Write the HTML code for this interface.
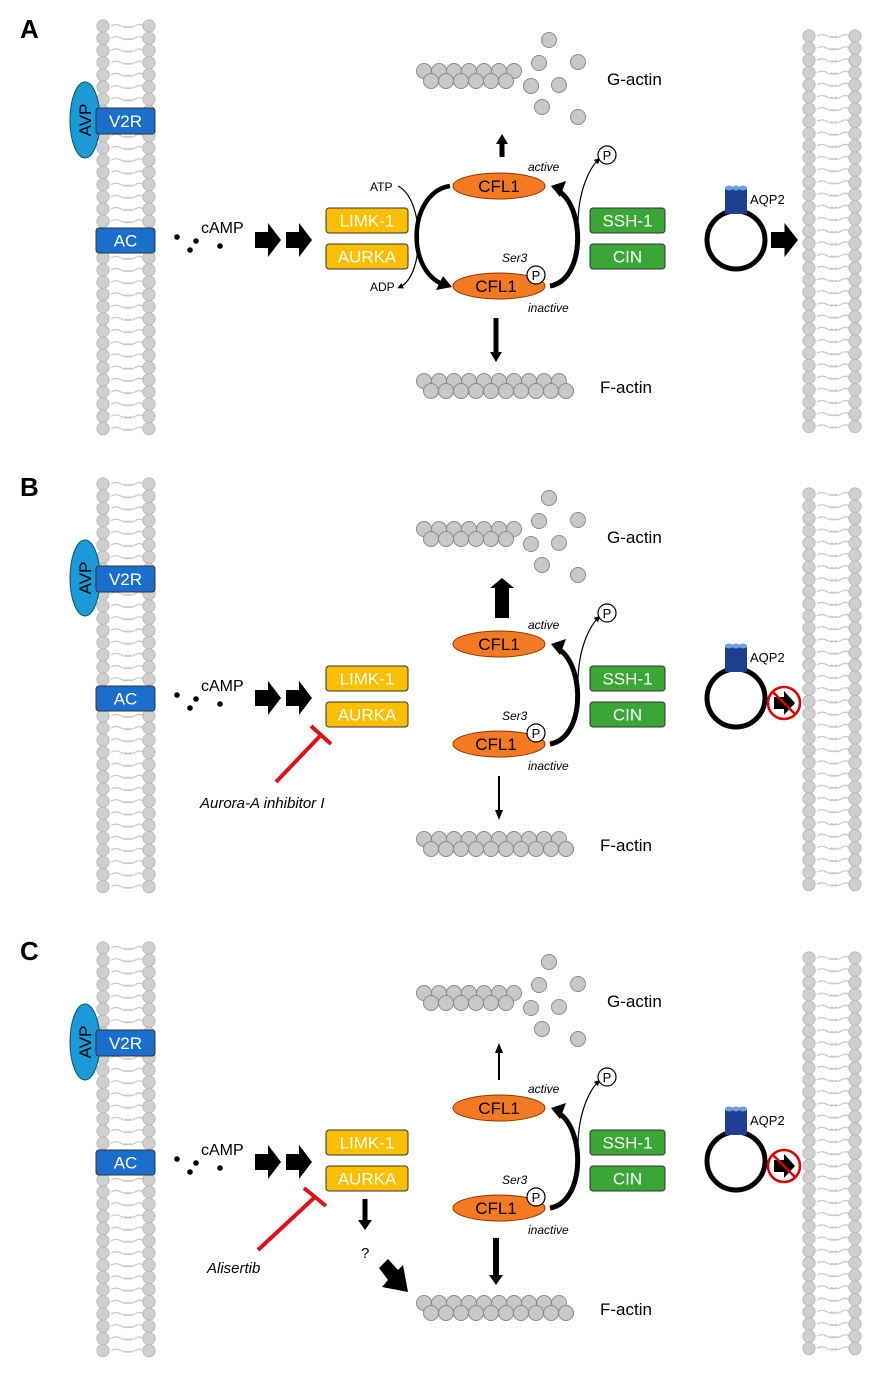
<!DOCTYPE html>
<html><head><meta charset="utf-8">
<style>
html,body{margin:0;padding:0;background:#fff;}
svg{display:block;font-family:"Liberation Sans",Arial,sans-serif;}
</style></head>
<body>
<svg id="s" width="876" height="1375" viewBox="0 0 876 1375" xmlns="http://www.w3.org/2000/svg">
<defs>
<marker id="ah" markerWidth="6" markerHeight="6" refX="3" refY="3" orient="auto" markerUnits="userSpaceOnUse"><path d="M0,0 L6,3 L0,6 z" fill="#000"/></marker>
</defs>
<g id="shapes"></g>
<g font-size="17" fill="#000">
<text x="20" y="38" font-size="26" font-weight="bold">A</text>
<text x="20" y="496" font-size="26" font-weight="bold">B</text>
<text x="20" y="960" font-size="26" font-weight="bold">C</text>
</g>
</svg>
<script>
const NS="http://www.w3.org/2000/svg";
const S=document.getElementById('shapes');
function el(t,a,parent,txt){const e=document.createElementNS(NS,t);for(const k in a)e.setAttribute(k,a[k]);if(txt!==undefined)e.textContent=txt;(parent||S).appendChild(e);return e;}
function membrane(x,y0,y1){
  el('rect',{x:x+6,y:y0,width:34,height:y1-y0,fill:'#fff'});
  for(let y=y0+6;y<=y1-4;y+=12.2){
    el('path',{d:`M${x+8},${y} q5,-3 10,0 t10,0 M${x+22},${y} q5,3 10,0 t8,0`,stroke:'#c9c9c9','stroke-width':1.2,fill:'none'});
  }
  for(let y=y0+6;y<=y1-4;y+=12.2){
    el('circle',{cx:x,cy:y,r:6.2,fill:'#cfcfcf',stroke:'#b5b5b5','stroke-width':0.8});
    el('circle',{cx:x+46,cy:y,r:6.2,fill:'#cfcfcf',stroke:'#b5b5b5','stroke-width':0.8});
  }
}
function ball(x,y){el('circle',{cx:x,cy:y,r:7.5,fill:'#c8c8c8',stroke:'#8a8a8a','stroke-width':1});}
function box(x,y,w,h,fill,txt,tc){el('rect',{x:x,y:y,width:w,height:h,rx:3,fill:fill,stroke:'#333','stroke-width':1});el('text',{x:x+w/2,y:y+h/2+6,'text-anchor':'middle','font-size':17,fill:tc||'#fff'},S,txt);}
function blockArrowR(x,y,w){
  el('path',{d:`M${x},${y-8} L${x+w*0.5},${y-8} L${x+w*0.5},${y-17} L${x+w},${y} L${x+w*0.5},${y+17} L${x+w*0.5},${y+8} L${x},${y+8} z`,fill:'#000'});
}
function vArrow(x,y1,y2,w,hw){
  const d=y2>y1?1:-1;const hl=10*d;
  el('path',{d:`M${x-w/2},${y1} L${x+w/2},${y1} L${x+w/2},${y2-hl} L${x+hw},${y2-hl} L${x},${y2} L${x-hw},${y2-hl} L${x-w/2},${y2-hl} z`,fill:'#000'});
}
function txt(x,y,t,o){const a=Object.assign({x:x,y:y,'font-size':16},o||{});el('text',a,S,t);}
function aqp(cx,cy,blocked){
  el('circle',{cx:cx,cy:cy,r:29,fill:'none',stroke:'#000','stroke-width':5});
  for(const dx of [-7,0,7]){el('rect',{x:cx+dx-4,y:cy-52,width:8,height:26,rx:2,fill:'#1e3f8f'});el('ellipse',{cx:cx+dx,cy:cy-52,rx:4,ry:2.5,fill:'#6aa0e0'});}
  txt(cx+14,cy-36,'AQP2',{'font-size':13});
  if(!blocked){blockArrowR(cx+35,cy,27);}
  else{
    const x=cx+48,y=cy+5;
    el('path',{d:`M${x-10},${y-6} L${x},${y-6} L${x},${y-12} L${x+11},${y} L${x},${y+12} L${x},${y+6} L${x-10},${y+6} z`,fill:'#000'});
    el('circle',{cx:x,cy:y,r:16,fill:'none',stroke:'#d00','stroke-width':2.5});
    el('line',{x1:x-11,y1:y-11,x2:x+11,y2:y+11,stroke:'#d00','stroke-width':2.5});
  }
}
function panel(o,mode){
  membrane(103,20+o,435+o); membrane(809,30+o,440+o);
  el('ellipse',{cx:85,cy:120+o,rx:15,ry:38,fill:'#1a9ad6',stroke:'#0b4f7a','stroke-width':1});
  el('text',{x:0,y:0,'font-size':17,fill:'#000','text-anchor':'middle',transform:`translate(91,${120+o}) rotate(-90)`},S,'AVP');
  box(96,108+o,59,26,'#1a6fcc','V2R');
  box(96,228+o,59,25,'#1a6fcc','AC');
  for(const [x,y] of [[177,237],[196,241],[190,250],[220,246]])el('circle',{cx:x,cy:y+o,r:2.8,fill:'#000'});
  txt(201,233+o,'cAMP',{'font-size':16});
  blockArrowR(255,240+o,26); blockArrowR(286,240+o,26);
  box(326,208+o,82,25,'#fbbf00','LIMK-1'); box(326,244+o,82,25,'#fbbf00','AURKA');
  box(590,208+o,75,25,'#3aa635','SSH-1'); box(590,244+o,75,25,'#3aa635','CIN');
  for(let i=0;i<7;i++)ball(424+i*15,71+o);
  for(let i=0;i<6;i++)ball(431+i*15,81+o);
  for(const [x,y] of [[549,40],[539,63],[578,62],[531,86],[559,85],[542,107],[578,117]])ball(x,y+o);
  txt(607,85+o,'G-actin',{'font-size':17});
  for(let i=0;i<10;i++)ball(424+i*15,381+o);
  for(let i=0;i<10;i++)ball(431+i*15,391+o);
  txt(600,393+o,'F-actin',{'font-size':17});
  el('ellipse',{cx:499,cy:186+o,rx:46,ry:13,fill:'#f37a21',stroke:'#8a3a00','stroke-width':1});
  txt(499,192+o,'CFL1',{'text-anchor':'middle','font-size':17});
  el('ellipse',{cx:499,cy:286+o,rx:46,ry:13,fill:'#f37a21',stroke:'#8a3a00','stroke-width':1});
  txt(496,292+o,'CFL1',{'text-anchor':'middle','font-size':17});
  el('circle',{cx:536,cy:275+o,r:9,fill:'#fff',stroke:'#000','stroke-width':1.2});
  txt(536,280+o,'P',{'text-anchor':'middle','font-size':13});
  txt(528,171+o,'active',{'font-size':12,'font-style':'italic'});
  txt(502,262+o,'Ser3',{'font-size':12,'font-style':'italic'});
  txt(528,312+o,'inactive',{'font-size':12,'font-style':'italic'});
  el('path',{d:`M550,${286+o} C585,${280+o} 585,${210+o} 560,${192+o}`,fill:'none',stroke:'#000','stroke-width':5});
  el('path',{d:`M551,${186+o} L566,${181+o} L560,${197+o} z`,fill:'#000'});
  el('path',{d:`M578,${225+o} C578,${190+o} 590,${168+o} 598,${160+o}`,fill:'none',stroke:'#000','stroke-width':1.2,'marker-end':'url(#ah)'});
  el('circle',{cx:607,cy:155+o,r:9,fill:'#fff',stroke:'#000','stroke-width':1.2});
  txt(607,160+o,'P',{'text-anchor':'middle','font-size':13});
  if(mode==='A'){
    el('path',{d:`M450,${186+o} C410,${192+o} 405,${265+o} 440,${283+o}`,fill:'none',stroke:'#000','stroke-width':4.5});
    el('path',{d:`M452,${287+o} L436,${290+o} L443,${276+o} z`,fill:'#000'});
    el('path',{d:`M398,${186+o} C425,${200+o} 425,${275+o} 400,${287+o}`,fill:'none',stroke:'#000','stroke-width':1.2,'marker-end':'url(#ah)'});
    txt(370,191+o,'ATP',{'font-size':12}); txt(370,291+o,'ADP',{'font-size':12});
    vArrow(502,157+o,134+o,5,6);
    vArrow(496,318+o,362+o,5,6);
    aqp(736,240+o,false);
  } else if(mode==='B'){
    vArrow(502,618,578,14,12);
    vArrow(499,776,820,2,4);
    aqp(736,698,true);
    el('line',{x1:276,y1:782,x2:321,y2:735,stroke:'#e0101a','stroke-width':4});
    el('line',{x1:311,y1:726,x2:331,y2:744,stroke:'#e0101a','stroke-width':4});
    txt(200,808,'Aurora-A inhibitor I',{'font-size':15,'font-style':'italic'});
  } else {
    vArrow(499,1080,1043,2,4);
    vArrow(496,1238,1285,6,7);
    aqp(736,1161,true);
    el('line',{x1:258,y1:1250,x2:315,y2:1197,stroke:'#e0101a','stroke-width':4});
    el('line',{x1:304,y1:1188,x2:326,y2:1206,stroke:'#e0101a','stroke-width':4});
    txt(207,1273,'Alisertib',{'font-size':15,'font-style':'italic'});
    vArrow(365,1199,1230,5,7);
    txt(361,1258,'?',{'font-size':15});
    el('path',{d:'M379,1268 L388,1259 L398,1270 L403,1265 L408,1292 L382,1287 L388,1280 z',fill:'#000'});
  }
}
panel(0,'A'); panel(458,'B'); panel(922,'C');
</script>
</body></html>
